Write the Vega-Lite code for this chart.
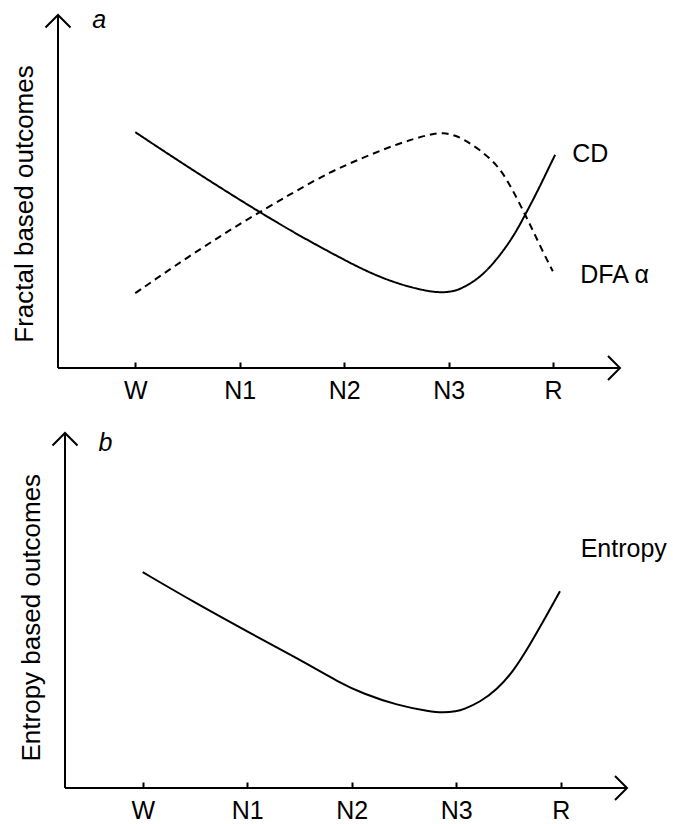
{
  "$schema": "https://vega.github.io/schema/vega-lite/v6.json",
  "background": "white",
  "padding": {"left": 11, "top": 8, "right": 0, "bottom": 0},
  "bounds": "flush",
  "spacing": 65,
  "config": {
    "font": "Liberation Sans",
    "view": {"stroke": null},
    "axis": {"labelFont": "Liberation Sans", "titleFont": "Liberation Sans", "labelColor": "black", "titleColor": "black"}
  },
  "datasets": {
    "fractal": [
      {"series": "CD", "stage": 1.0, "value": 66.8},
      {"series": "CD", "stage": 1.5, "value": 57.0},
      {"series": "CD", "stage": 2.0, "value": 47.6},
      {"series": "CD", "stage": 2.5, "value": 38.6},
      {"series": "CD", "stage": 3.0, "value": 30.6},
      {"series": "CD", "stage": 3.25, "value": 26.9},
      {"series": "CD", "stage": 3.5, "value": 24.0},
      {"series": "CD", "stage": 3.75, "value": 22.0},
      {"series": "CD", "stage": 3.92, "value": 21.3},
      {"series": "CD", "stage": 4.05, "value": 21.7},
      {"series": "CD", "stage": 4.142, "value": 22.8},
      {"series": "CD", "stage": 4.301, "value": 25.6},
      {"series": "CD", "stage": 4.461, "value": 30.7},
      {"series": "CD", "stage": 4.62, "value": 37.2},
      {"series": "CD", "stage": 4.732, "value": 43.4},
      {"series": "CD", "stage": 4.844, "value": 49.7},
      {"series": "CD", "stage": 4.94, "value": 55.6},
      {"series": "CD", "stage": 5.019, "value": 60.4},
      {"series": "DFA α", "stage": 1.0, "value": 21.2},
      {"series": "DFA α", "stage": 1.5, "value": 31.4},
      {"series": "DFA α", "stage": 2.0, "value": 40.9},
      {"series": "DFA α", "stage": 2.5, "value": 49.5},
      {"series": "DFA α", "stage": 2.866, "value": 55.6},
      {"series": "DFA α", "stage": 3.182, "value": 59.6},
      {"series": "DFA α", "stage": 3.507, "value": 63.5},
      {"series": "DFA α", "stage": 3.823, "value": 66.3},
      {"series": "DFA α", "stage": 3.95, "value": 66.7},
      {"series": "DFA α", "stage": 4.06, "value": 65.9},
      {"series": "DFA α", "stage": 4.142, "value": 64.8},
      {"series": "DFA α", "stage": 4.301, "value": 61.8},
      {"series": "DFA α", "stage": 4.461, "value": 57.6},
      {"series": "DFA α", "stage": 4.557, "value": 53.4},
      {"series": "DFA α", "stage": 4.653, "value": 48.1},
      {"series": "DFA α", "stage": 4.732, "value": 43.4},
      {"series": "DFA α", "stage": 4.811, "value": 38.7},
      {"series": "DFA α", "stage": 4.907, "value": 32.6},
      {"series": "DFA α", "stage": 4.997, "value": 27.4}
    ],
    "entropy": [
      {"series": "Entropy", "stage": 1.0, "value": 60.8},
      {"series": "Entropy", "stage": 1.5, "value": 52.2},
      {"series": "Entropy", "stage": 2.0, "value": 44.1},
      {"series": "Entropy", "stage": 2.5, "value": 36.2},
      {"series": "Entropy", "stage": 2.888, "value": 29.6},
      {"series": "Entropy", "stage": 3.108, "value": 26.6},
      {"series": "Entropy", "stage": 3.434, "value": 23.3},
      {"series": "Entropy", "stage": 3.749, "value": 21.5},
      {"series": "Entropy", "stage": 3.88, "value": 21.2},
      {"series": "Entropy", "stage": 4.0, "value": 21.6},
      {"series": "Entropy", "stage": 4.068, "value": 22.1},
      {"series": "Entropy", "stage": 4.228, "value": 24.2},
      {"series": "Entropy", "stage": 4.388, "value": 27.7},
      {"series": "Entropy", "stage": 4.546, "value": 32.8},
      {"series": "Entropy", "stage": 4.706, "value": 40.4},
      {"series": "Entropy", "stage": 4.833, "value": 46.9},
      {"series": "Entropy", "stage": 4.993, "value": 55.4}
    ]
  },
  "vconcat": [
    {
      "width": 562,
      "height": 353,
      "layer": [
        {
          "data": {"name": "fractal"},
          "mark": {"type": "line", "interpolate": "basis", "color": "black", "strokeWidth": 2},
          "encoding": {
            "x": {
              "field": "stage", "type": "quantitative",
              "scale": {"domain": [0.26, 5.64], "nice": false, "zero": false},
              "axis": {
                "title": null, "domain": false, "grid": false,
                "values": [1, 2, 3, 4, 5],
                "labelExpr": "['', 'W', 'N1', 'N2', 'N3', 'R'][datum.value]",
                "labelFontSize": 25, "labelPadding": 16, "labelFlush": false, "labelOverlap": false,
                "tickSize": -6, "tickWidth": 2, "tickColor": "black"
              }
            },
            "y": {
              "field": "value", "type": "quantitative",
              "scale": {"domain": [0, 100], "nice": false},
              "axis": {
                "title": "Fractal based outcomes", "domain": false, "grid": false, "ticks": false, "labels": false,
                "titleFontSize": 26, "titleFontWeight": "normal", "titlePadding": 21, "titleY": 188.5
              }
            },
            "strokeDash": {
              "field": "series", "type": "nominal",
              "scale": {"domain": ["CD", "DFA α"], "range": [[1, 0], [7, 5]]},
              "legend": null
            }
          }
        },
        {
          "data": {"values": [{}]},
          "mark": {"type": "rule", "color": "black", "strokeWidth": 2},
          "encoding": {"x": {"datum": 0.26}, "y": {"datum": 0}, "y2": {"datum": 100}}
        },
        {
          "data": {"values": [{}]},
          "mark": {"type": "rule", "color": "black", "strokeWidth": 2},
          "encoding": {"x": {"datum": 0.26}, "x2": {"datum": 5.64}, "y": {"datum": 0}}
        },
        {
          "data": {"values": [{}]},
          "mark": {"type": "point", "shape": "M-1,1L0,0L1,1", "size": 625, "filled": false, "color": "black", "strokeWidth": 2, "opacity": 1},
          "encoding": {"x": {"datum": 0.26}, "y": {"datum": 100}}
        },
        {
          "data": {"values": [{}]},
          "mark": {"type": "point", "shape": "M-1,-1L0,0L-1,1", "size": 576, "filled": false, "color": "black", "strokeWidth": 2, "opacity": 1},
          "encoding": {"x": {"datum": 5.64}, "y": {"datum": 0}}
        },
        {
          "data": {"values": [{}]},
          "mark": {"type": "text", "text": "a", "fontStyle": "italic", "fontSize": 25, "align": "left", "baseline": "alphabetic", "color": "black"},
          "encoding": {"x": {"datum": 0.589}, "y": {"datum": 96.2}}
        },
        {
          "data": {"values": [{}]},
          "mark": {"type": "text", "text": "CD", "fontSize": 25, "align": "left", "baseline": "alphabetic", "color": "black"},
          "encoding": {"x": {"datum": 5.182}, "y": {"datum": 58.3}}
        },
        {
          "data": {"values": [{}]},
          "mark": {"type": "text", "text": "DFA α", "fontSize": 25, "align": "left", "baseline": "alphabetic", "color": "black"},
          "encoding": {"x": {"datum": 5.26}, "y": {"datum": 24.1}}
        }
      ]
    },
    {
      "width": 569,
      "height": 355,
      "layer": [
        {
          "data": {"name": "entropy"},
          "mark": {"type": "line", "interpolate": "basis", "color": "black", "strokeWidth": 2},
          "encoding": {
            "x": {
              "field": "stage", "type": "quantitative",
              "scale": {"domain": [0.1895, 5.6344], "nice": false, "zero": false},
              "axis": {
                "title": null, "domain": false, "grid": false,
                "values": [1, 2, 3, 4, 5],
                "labelExpr": "['', 'W', 'N1', 'N2', 'N3', 'R'][datum.value]",
                "labelFontSize": 25, "labelPadding": 16, "labelFlush": false, "labelOverlap": false,
                "tickSize": -6, "tickWidth": 2, "tickColor": "black"
              }
            },
            "y": {
              "field": "value", "type": "quantitative",
              "scale": {"domain": [0, 100], "nice": false},
              "axis": {
                "title": "Entropy based outcomes", "domain": false, "grid": false, "ticks": false, "labels": false,
                "titleFontSize": 26, "titleFontWeight": "normal", "titlePadding": 14, "titleY": 184.2
              }
            }
          }
        },
        {
          "data": {"values": [{}]},
          "mark": {"type": "rule", "color": "black", "strokeWidth": 2},
          "encoding": {"x": {"datum": 0.2565}, "y": {"datum": 0}, "y2": {"datum": 100}}
        },
        {
          "data": {"values": [{}]},
          "mark": {"type": "rule", "color": "black", "strokeWidth": 2},
          "encoding": {"x": {"datum": 0.2565}, "x2": {"datum": 5.6344}, "y": {"datum": 0}}
        },
        {
          "data": {"values": [{}]},
          "mark": {"type": "point", "shape": "M-1,1L0,0L1,1", "size": 625, "filled": false, "color": "black", "strokeWidth": 2, "opacity": 1},
          "encoding": {"x": {"datum": 0.2565}, "y": {"datum": 100}}
        },
        {
          "data": {"values": [{}]},
          "mark": {"type": "point", "shape": "M-1,-1L0,0L-1,1", "size": 576, "filled": false, "color": "black", "strokeWidth": 2, "opacity": 1},
          "encoding": {"x": {"datum": 5.6344}, "y": {"datum": 0}}
        },
        {
          "data": {"values": [{}]},
          "mark": {"type": "text", "text": "b", "fontStyle": "italic", "fontSize": 25, "align": "left", "baseline": "alphabetic", "color": "black"},
          "encoding": {"x": {"datum": 0.577}, "y": {"datum": 94.8}}
        },
        {
          "data": {"values": [{}]},
          "mark": {"type": "text", "text": "Entropy", "fontSize": 25, "align": "left", "baseline": "alphabetic", "color": "black"},
          "encoding": {"x": {"datum": 5.191}, "y": {"datum": 65.1}}
        }
      ]
    }
  ]
}
